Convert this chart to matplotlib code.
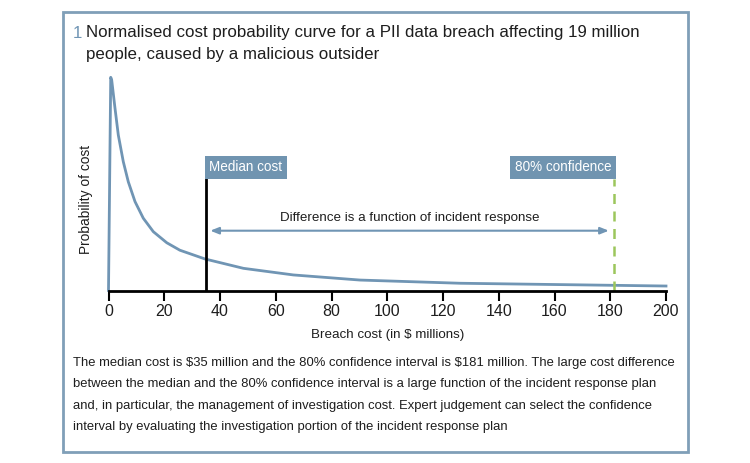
import matplotlib
matplotlib.use("Agg")
import matplotlib.pyplot as plt
from matplotlib.patches import Rectangle

plt.rcParams['text.parse_math'] = False
plt.rcParams['font.family'] = ['Liberation Sans', 'DejaVu Sans']

# Data (normalised probability)
cost = [0, 0.8, 1.15, 2.33, 3.52, 5.31, 7.1, 9.51, 12.48, 16.07, 20.9, 25.6,
        34.6, 48.4, 66.3, 90.2, 126.1, 200]
prob = [0, 1.0, 0.987, 0.855, 0.729, 0.604, 0.51, 0.417, 0.339, 0.276, 0.224, 0.189,
        0.148, 0.104, 0.073, 0.049, 0.034, 0.021]
median_cost = 35
conf80_cost = 181.5
xticks = [0, 20, 40, 60, 80, 100, 120, 140, 160, 180, 200]

BLUE = "#7095b4"
BOX = "#7094b0"
GREEN = "#9cc65c"
TXT = "#1e1e1e"

fig = plt.figure(figsize=(7.5, 4.63), dpi=100)
W, H = 750, 463
renderer = fig.canvas.get_renderer()

def fx(px): return px / W
def fy(py): return 1 - py / H

def fit(t, target_px, vertical=False):
    fs = t.get_fontsize()
    ext = t.get_window_extent(renderer=renderer)
    w = ext.height if vertical else ext.width
    t.set_fontsize(fs * target_px / w)
    return t.get_fontsize()

# frame
fig.patches.append(Rectangle((fx(63), fy(452)), (688 - 63) / W, (452 - 12) / H,
                             transform=fig.transFigure, fill=False,
                             edgecolor="#809fb8", linewidth=2))

# title
t1 = fig.text(fx(86), fy(33), "Normalised cost probability curve for a PII data breach affecting 19 million",
              color=TXT, fontsize=15, va="center", ha="left")
tfs = fit(t1, 550)
fig.text(fx(73), fy(33), "1", color=BLUE, fontsize=tfs, va="center", ha="left")
fig.text(fx(86), fy(54), "people, caused by a malicious outsider",
         color=TXT, fontsize=tfs, va="center", ha="left")

base = 290.5
top = 77.3
ax = fig.add_axes([fx(108.5), fy(base), (666 - 108.5) / W, (base - top) / H])
ax.plot(cost, prob, color=BLUE, lw=2, clip_on=False, solid_joinstyle="round")
ax.set_xlim(0, 200)
ax.set_ylim(0, 1)
for s in ["top", "right", "left"]:
    ax.spines[s].set_visible(False)
ax.spines["bottom"].set_linewidth(2)
ax.spines["bottom"].set_color("black")
ax.set_yticks([])
ax.set_xticks(xticks)
ax.tick_params(axis="x", direction="out", length=7, width=1.5, labelsize=11.5,
               pad=3, colors="black", labelcolor=TXT)
xl = ax.set_xlabel("Breach cost (in $ millions)", fontsize=11, color=TXT, labelpad=7)
yl = ax.set_ylabel("Probability of cost", fontsize=11, color=TXT)
ax.yaxis.set_label_coords((93 - 108.5) / 557.5, (base - 199) / (base - top))
ax.patch.set_alpha(0)
fit(xl, 153)
fit(yl, 108, vertical=True)

# median line + label
y_box_bottom = (base - 179) / (base - top)
ax.plot([median_cost, median_cost], [0, y_box_bottom], color="black", lw=2)
m = ax.text(median_cost, y_box_bottom, "Median cost", color="white", fontsize=12,
            ha="left", va="bottom")
mfs = fit(m, 73)
m.remove()
pad_pt = 0.35 * mfs
ax.annotate("Median cost", xy=(median_cost, y_box_bottom), xytext=(pad_pt - 1, pad_pt),
            textcoords="offset points", color="white", fontsize=mfs,
            ha="left", va="bottom",
            bbox=dict(boxstyle="square,pad=0.35", fc=BOX, ec="none"))
# 80% line + label
ax.plot([conf80_cost, conf80_cost], [0, y_box_bottom], color=GREEN, lw=1.8, ls=(0, (4, 3)))
ax.annotate("80% confidence", xy=(conf80_cost, y_box_bottom), xytext=(-pad_pt + 1, pad_pt),
            textcoords="offset points", color="white", fontsize=mfs,
            ha="right", va="bottom",
            bbox=dict(boxstyle="square,pad=0.35", fc=BOX, ec="none"))

# arrow
y_arrow = (base - 230.7) / (base - top)
ax.annotate("", xy=(36.5, y_arrow), xytext=(179.5, y_arrow),
            arrowprops=dict(arrowstyle="<|-|>,head_length=0.5,head_width=0.2",
                            color=BLUE, lw=1.5, shrinkA=0, shrinkB=0))
d = ax.text(108, y_arrow + 0.03, "Difference is a function of incident response",
            fontsize=12, color=TXT, ha="center", va="bottom")
fit(d, 261)

body = ["The median cost is $35 million and the 80% confidence interval is $181 million. The large cost difference",
        "between the median and the 80% confidence interval is a large function of the incident response plan",
        "and, in particular, the management of investigation cost. Expert judgement can select the confidence",
        "interval by evaluating the investigation portion of the incident response plan"]
b0 = fig.text(fx(73), fy(363), body[0], fontsize=12, color=TXT, va="center", ha="left")
bfs = fit(b0, 602)
for i, line in enumerate(body[1:], start=1):
    fig.text(fx(73), fy(363 + 21.3 * i), line, fontsize=bfs, color=TXT, va="center", ha="left")

fig.savefig("out.png", dpi=100, facecolor="white")
